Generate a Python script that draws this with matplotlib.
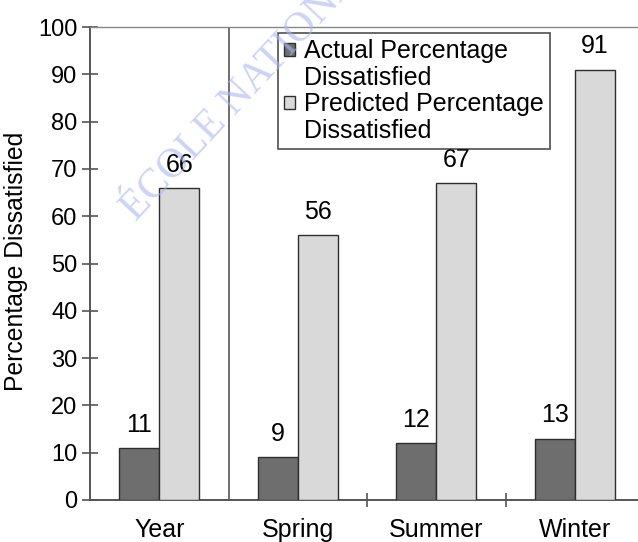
import matplotlib.pyplot as plt
from matplotlib.patches import Patch
import numpy as np

plt.rcParams['font.family'] = ['Liberation Sans', 'DejaVu Sans']

# data
categories = ['Year', 'Spring', 'Summer', 'Winter']
actual = [11, 9, 12, 13]
predicted = [66, 56, 67, 91]
yticks = list(range(0, 101, 10))

dark = '#6e6e6e'
light = '#d9d9d9'
edge = '#2e2e2e'
axis_col = '#555555'
fs = 18

fig = plt.figure(figsize=(6.38, 5.42), dpi=100)
ax = fig.add_axes([90 / 638, 1 - 500 / 542, 548 / 638, 473 / 542])

x = np.arange(len(categories))
w = 0.29
b1 = ax.bar(x - w / 2, actual, w, color=dark, edgecolor=edge, linewidth=1.0, zorder=3)
b2 = ax.bar(x + w / 2, predicted, w, color=light, edgecolor=edge, linewidth=1.0, zorder=3)

for bars, vals in ((b1, actual), (b2, predicted)):
    for r, v in zip(bars, vals):
        ax.annotate(str(v), (r.get_x() + r.get_width() / 2, v), xytext=(0, 8),
                    textcoords='offset points', ha='center', va='bottom', fontsize=fs)

# separator between the year and the seasons
ax.axvline(0.5, color=axis_col, linewidth=1.2, zorder=2)

ax.set_xlim(-0.5, -0.5 + 548 / 138.5)
ax.set_ylim(0, 100)
ax.set_yticks(yticks)
ax.set_xticks(x)
ax.set_xticklabels(categories, fontsize=fs)
ax.set_xticks([1.5, 2.5], minor=True)
ax.tick_params(axis='x', which='major', length=0, pad=13)
ax.tick_params(axis='x', which='minor', direction='inout', length=10, width=1.2, color=axis_col)
ax.tick_params(axis='y', direction='inout', length=12, width=1.2, color=axis_col, labelsize=17, pad=3)
ax.set_ylabel('Percentage Dissatisfied', fontsize=17.8)
ax.yaxis.set_label_coords(-62 / 548, 0.505)

for s in ('left', 'bottom'):
    ax.spines[s].set_color(axis_col)
    ax.spines[s].set_linewidth(1.4)
ax.spines['top'].set_linewidth(1.0)
ax.spines['top'].set_color('#888888')
ax.spines['right'].set_visible(False)

blank = Patch(facecolor='none', edgecolor='none')
handles = [Patch(facecolor=dark, edgecolor=edge), blank,
           Patch(facecolor=light, edgecolor=edge), blank]
labels = ['Actual Percentage', 'Dissatisfied', 'Predicted Percentage', 'Dissatisfied']
leg = ax.legend(handles, labels, loc='upper left', bbox_to_anchor=(188 / 548, 1 - 6 / 473),
                fontsize=fs, frameon=True, fancybox=False, edgecolor='#222222',
                handlelength=0.42, handleheight=0.42, handletextpad=0.35,
                labelspacing=0.1, borderpad=0.25, borderaxespad=0)
leg.get_frame().set_linewidth(1.2)

# faint watermark, drawn over the chart like in the scan
fig.text(136 / 638, 1 - 222 / 542, 'ÉCOLE NATIONALE', rotation=47, rotation_mode='anchor',
         fontsize=30, family='Liberation Serif', color='#aab6f0', alpha=0.6,
         ha='left', va='baseline', zorder=10)

fig.savefig('out.png', dpi=100)
